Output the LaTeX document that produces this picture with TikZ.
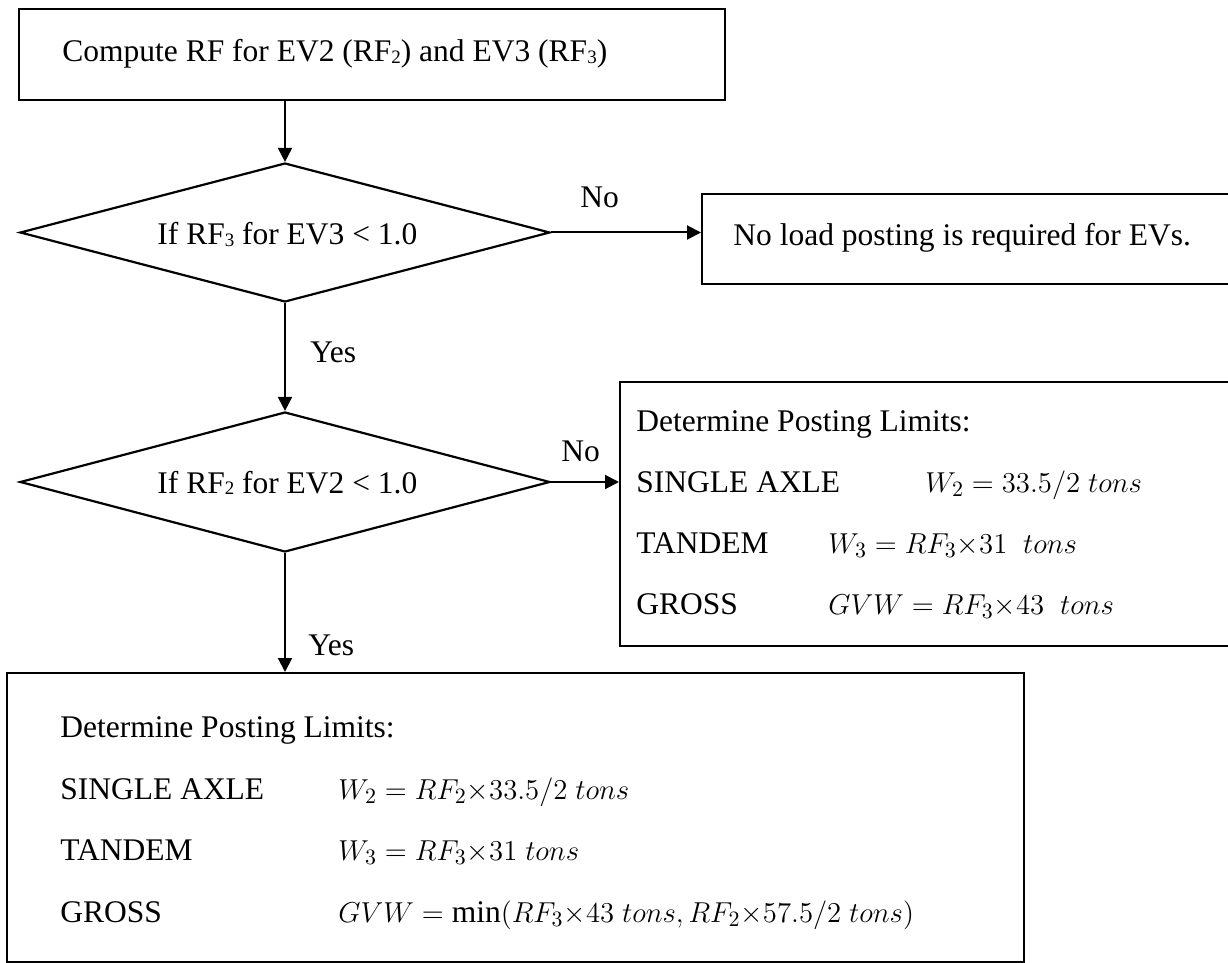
\documentclass[tikz,border=0pt]{standalone}
\usepackage{fontspec}
\setmainfont{Liberation Serif}
\usetikzlibrary{shapes.geometric,arrows.meta}
\newcommand{\lowsub}[1]{\raisebox{-0.6pt}{\fontsize{9.5pt}{10pt}\selectfont #1}}
\begin{document}
\begin{tikzpicture}[x=0.5pt,y=-0.5pt,
  font=\fontsize{15.75pt}{19pt}\selectfont,
  box/.style={draw, line width=1.1pt, rectangle, inner sep=0pt, anchor=north west},
  dec/.style={draw, line width=1.1pt, diamond, inner sep=0pt, minimum width=265pt},
  conn/.style={line width=1pt, -{Triangle[length=7pt,width=7pt]}},
  txt/.style={anchor=base west, inner sep=0pt}]
\useasboundingbox (0,0) rectangle (1228,963);
\clip (0,0) rectangle (1228,963);

% boxes and decisions
\node[box, minimum width=353pt, minimum height=45.5pt] (top) at (18,8) {};
\node[dec, minimum height=69.5pt] (d1) at (285,232.5) {};
\node[box, minimum width=269.5pt, minimum height=45pt] (b2) at (701,193) {};
\node[dec, minimum height=70pt] (d2) at (285,482) {};
\node[box, minimum width=310.5pt, minimum height=132pt] (b3) at (619,381) {};
\node[box, minimum width=508.5pt, minimum height=144.5pt] (b4) at (6,672) {};

% texts
\node[txt] (ttop) at (62,62) {Compute RF for EV2 (RF\lowsub{2}) and EV3 (RF\lowsub{3})};
\node[txt] (td1) at (157,245) {If RF\lowsub{3} for EV3 < 1.0};
\node[txt] (td2) at (157,493) {If RF\lowsub{2} for EV2 < 1.0};
\node[txt] (tb2) at (733,246) {No load posting is required for EVs.};

\node[txt] (b3a) at (636,431) {Determine Posting Limits:};
\node[txt] (b3b) at (636,492) {SINGLE AXLE};
\node[txt] (b3bm) at (925,492) {$W_2 = 33.5/2\ tons$};
\node[txt] (b3c) at (636,553) {TANDEM};
\node[txt] (b3cm) at (828,553) {$W_3 = RF_3{\times}31\ \ tons$};
\node[txt] (b3d) at (636,614) {GROSS};
\node[txt] (b3dm) at (828,614) {$GVW = RF_3{\times}43\ \ tons$};

\node[txt] (b4a) at (60,737) {Determine Posting Limits:};
\node[txt] (b4b) at (60,799) {SINGLE AXLE};
\node[txt] (b4bm) at (338,799) {$W_2 = RF_2{\times}33.5/2\ tons$};
\node[txt] (b4c) at (60,860) {TANDEM};
\node[txt] (b4cm) at (338,860) {$W_3 = RF_3{\times}31\ tons$};
\node[txt] (b4d) at (60,922) {GROSS};
\node[txt] (b4dm) at (338,922) {$GVW = \min(RF_3{\times}43\ tons, RF_2{\times}57.5/2\ tons)$};

% labels
\node[txt] (no1) at (580,208) {No};
\node[txt] (yes1) at (310,363) {Yes};
\node[txt] (no2) at (561,461) {No};
\node[txt] (yes2) at (308,655) {Yes};

% connectors
\draw[conn] (top.south -| d1.north) -- (d1.north);
\draw[conn] (d1.east) -- (d1.east -| b2.west);
\draw[conn] (d1.south) -- (d2.north);
\draw[conn] (d2.east) -- (d2.east -| b3.west);
\draw[conn] (d2.south) -- (d2.south |- b4.north);
\end{tikzpicture}
\end{document}
